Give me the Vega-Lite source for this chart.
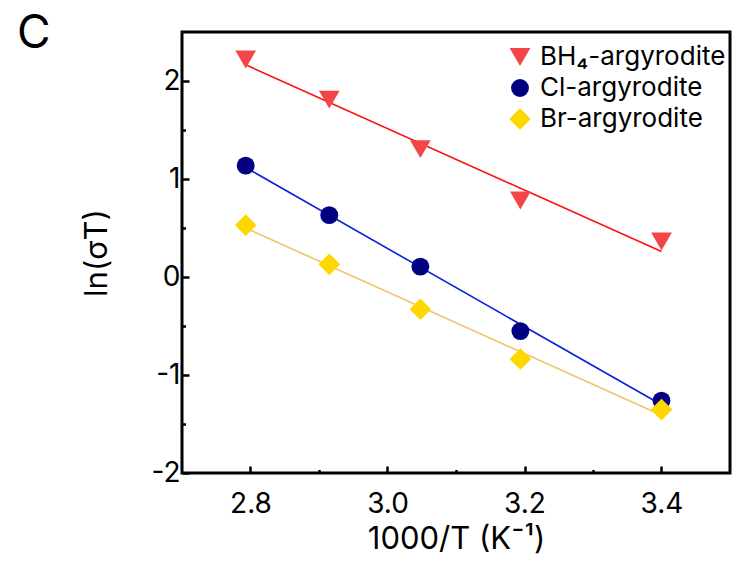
{
  "$schema": "https://vega.github.io/schema/vega-lite/v6.json",
  "width": 548,
  "height": 441,
  "autosize": {"type": "none"},
  "padding": {"left": 182, "top": 32, "right": 2, "bottom": 88},
  "background": "white",
  "config": {
    "font": "Inter",
    "view": {"stroke": "black", "strokeWidth": 3},
    "axis": {
      "grid": false,
      "domain": false,
      "tickColor": "black",
      "tickWidth": 2.5,
      "labelColor": "black",
      "titleColor": "black",
      "labelFontSize": 28,
      "titleFontSize": 31,
      "titleFontWeight": "normal",
      "labelFont": "Inter",
      "titleFont": "Inter"
    },
    "legend": {
      "padding": 0,
      "labelFontSize": 26,
      "labelFont": "Inter",
      "labelColor": "black",
      "labelOffset": 7,
      "labelLimit": 400,
      "rowPadding": 5,
      "symbolStrokeWidth": 0,
      "symbolOpacity": 1
    }
  },
  "title": {
    "text": "C",
    "anchor": "start",
    "frame": "group",
    "fontSize": 46,
    "fontWeight": "normal",
    "font": "Inter",
    "color": "black",
    "offset": 0,
    "dx": -165,
    "dy": 26
  },
  "data": {
    "values": [
      {"series": "BH₄-argyrodite", "x": 2.793, "y": 2.22},
      {"series": "BH₄-argyrodite", "x": 2.915, "y": 1.81},
      {"series": "BH₄-argyrodite", "x": 3.048, "y": 1.305},
      {"series": "BH₄-argyrodite", "x": 3.194, "y": 0.781},
      {"series": "BH₄-argyrodite", "x": 3.4, "y": 0.362},
      {"series": "Cl-argyrodite", "x": 2.793, "y": 1.136},
      {"series": "Cl-argyrodite", "x": 2.915, "y": 0.631},
      {"series": "Cl-argyrodite", "x": 3.048, "y": 0.106},
      {"series": "Cl-argyrodite", "x": 3.194, "y": -0.552},
      {"series": "Cl-argyrodite", "x": 3.4, "y": -1.261},
      {"series": "Br-argyrodite", "x": 2.793, "y": 0.529},
      {"series": "Br-argyrodite", "x": 2.915, "y": 0.129},
      {"series": "Br-argyrodite", "x": 3.048, "y": -0.329},
      {"series": "Br-argyrodite", "x": 3.194, "y": -0.837},
      {"series": "Br-argyrodite", "x": 3.4, "y": -1.353}
    ]
  },
  "resolve": {"axis": {"x": "independent", "y": "independent"}},
  "layer": [
    {
      "transform": [{"regression": "y", "on": "x", "groupby": ["series"]}],
      "mark": {"type": "line", "strokeWidth": 1.6},
      "encoding": {
        "x": {
          "field": "x", "type": "quantitative",
          "scale": {"domain": [2.7, 3.5], "nice": false, "zero": false},
          "axis": {
            "orient": "bottom",
            "values": [2.8, 3.0, 3.2, 3.4],
            "labelExpr": "format(datum.value, '.1f')",
            "tickSize": -7,
            "labelPadding": 24,
            "title": "1000/T (K⁻¹)",
            "titlePadding": 6
          }
        },
        "y": {
          "field": "y", "type": "quantitative",
          "scale": {"domain": [-2, 2.5], "nice": false, "zero": false},
          "axis": {
            "orient": "left",
            "values": [-2, -1, 0, 1, 2],
            "labelExpr": "'' + datum.value",
            "tickSize": -7,
            "labelPadding": 9,
            "title": "ln(σT)",
            "titlePadding": 37
          }
        },
        "stroke": {
          "field": "series", "type": "nominal",
          "scale": {
            "domain": ["Br-argyrodite", "Cl-argyrodite", "BH₄-argyrodite"],
            "range": ["#F2C46A", "#0A22D8", "#FF1010"]
          },
          "legend": null
        }
      }
    },
    {
      "mark": {"type": "point", "filled": true, "opacity": 1, "strokeWidth": 0},
      "encoding": {
        "x": {
          "field": "x", "type": "quantitative",
          "axis": {
            "orient": "bottom",
            "values": [2.9, 3.1, 3.3],
            "labels": false,
            "tickSize": -3.5,
            "title": null
          }
        },
        "y": {
          "field": "y", "type": "quantitative",
          "axis": {
            "orient": "left",
            "values": [-1.5, -0.5, 0.5, 1.5],
            "labels": false,
            "tickSize": -3.5,
            "title": null
          }
        },
        "fill": {
          "field": "series", "type": "nominal",
          "scale": {
            "domain": ["BH₄-argyrodite", "Cl-argyrodite", "Br-argyrodite"],
            "range": ["#F24646", "#000080", "#FFD700"]
          },
          "legend": {"title": null, "orient": "none", "legendX": 325, "legendY": 12}
        },
        "shape": {
          "field": "series", "type": "nominal",
          "scale": {
            "domain": ["BH₄-argyrodite", "Cl-argyrodite", "Br-argyrodite"],
            "range": ["triangle-down", "circle", "diamond"]
          },
          "legend": {"title": null, "orient": "none", "legendX": 325, "legendY": 12}
        },
        "size": {
          "field": "series", "type": "nominal",
          "scale": {
            "type": "ordinal",
            "domain": ["BH₄-argyrodite", "Cl-argyrodite", "Br-argyrodite"],
            "range": [430, 320, 470]
          },
          "legend": {"title": null, "orient": "none", "legendX": 325, "legendY": 12}
        }
      }
    }
  ]
}
